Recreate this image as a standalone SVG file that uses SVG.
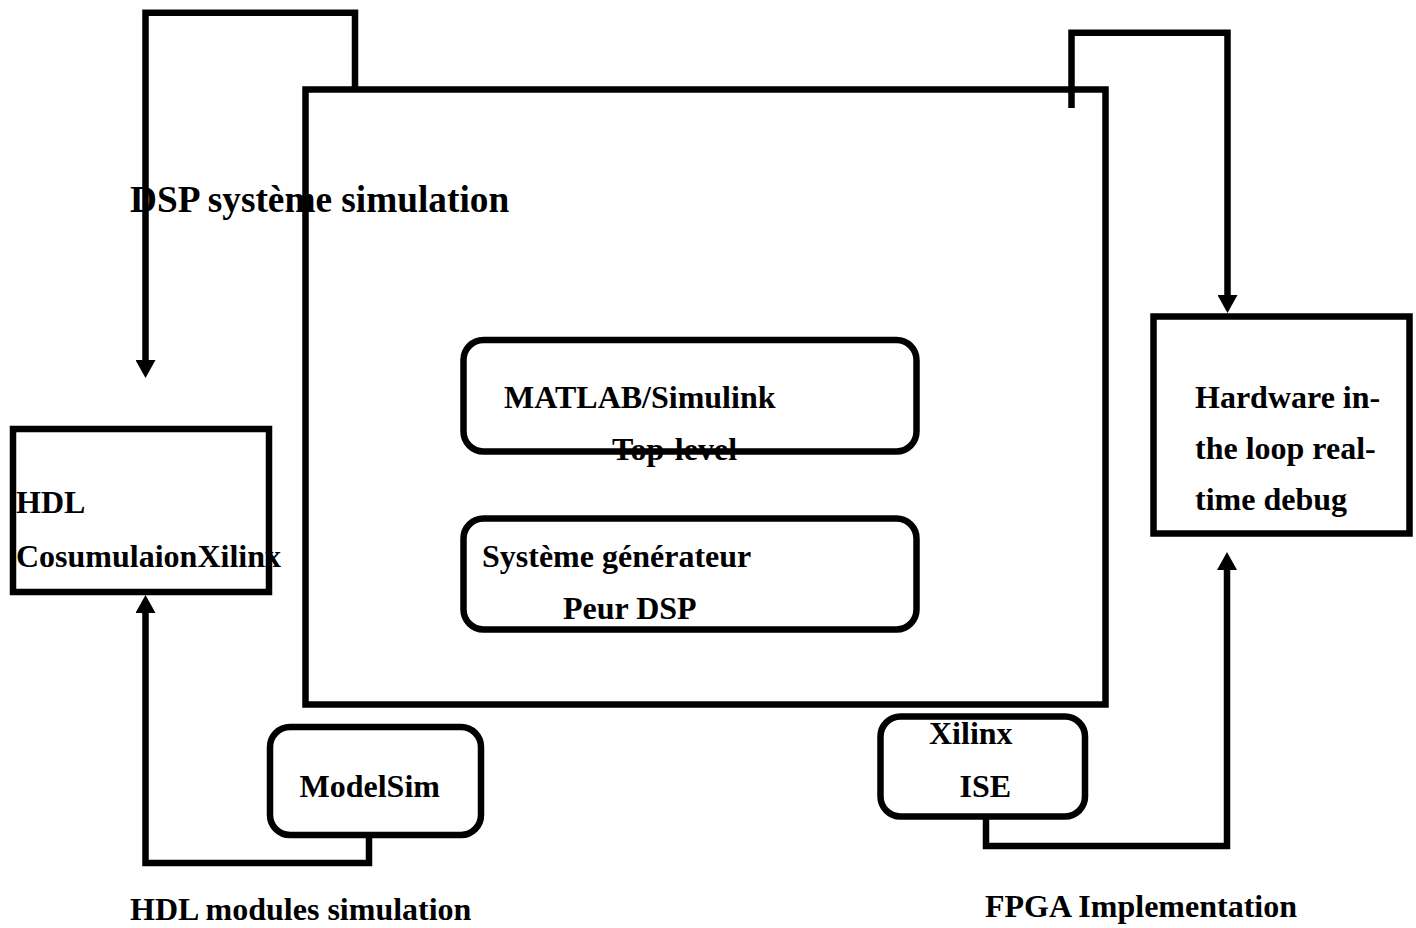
<svg xmlns="http://www.w3.org/2000/svg" width="1416" height="928" viewBox="0 0 1416 928">
<style>
.box{fill:#fff;stroke:#000;stroke-width:6.5}
.frame{fill:none;stroke:#000;stroke-width:6.5}
.conn{fill:none;stroke:#000;stroke-width:6.5;stroke-linejoin:miter;stroke-linecap:butt}
.t{font-family:"Liberation Serif","Times New Roman",serif;font-weight:bold;font-size:32px;fill:#000}
.title{font-size:37.3px}
</style>
<defs>
<marker id="ah" markerUnits="userSpaceOnUse" markerWidth="20" markerHeight="20" refX="0" refY="10" orient="auto" viewBox="0 0 18 20">
<path d="M0,0 L18,10 L0,20 Z" fill="#000"/>
</marker>
</defs>
<rect width="1416" height="928" fill="#fff"/>
<g id="main">
<rect class="frame" x="305.5" y="89.5" width="800" height="615"/>
<text class="t title" x="130" y="212">DSP système simulation</text>
</g>
<g id="connectors">
<path class="conn" d="M355,89.5 V12.7 H145.5 V360" marker-end="url(#ah)"/>
<path class="conn" d="M369,836 V863 H145.5 V613" marker-end="url(#ah)"/>
<path class="conn" d="M1071.5,108 V32.7 H1227.5 V295" marker-end="url(#ah)"/>
<path class="conn" d="M986,817 V846 H1227 V570" marker-end="url(#ah)"/>
</g>
<g id="matlab">
<rect class="box" x="463.5" y="340" width="453" height="111.5" rx="20"/>
<text class="t" x="504" y="407.5">MATLAB/Simulink</text>
<text class="t" x="612" y="460">Top-level</text>
</g>
<g id="sysgen">
<rect class="box" x="463.5" y="518.5" width="453" height="111" rx="20"/>
<text class="t" x="482" y="566.5">Système générateur</text>
<text class="t" x="563" y="618.5">Peur DSP</text>
</g>
<g id="hdlcosim">
<rect class="box" x="13" y="429" width="256" height="163"/>
<text class="t" x="16" y="513">HDL</text>
<text class="t" x="16" y="566.5">CosumulaionXilinx</text>
</g>
<g id="hardware">
<rect class="box" x="1153.5" y="316.5" width="256" height="217"/>
<text class="t" x="1195" y="408">Hardware in-</text>
<text class="t" x="1195" y="459">the loop real-</text>
<text class="t" x="1195" y="510">time debug</text>
</g>
<g id="modelsim">
<rect class="box" x="270" y="727" width="211" height="108" rx="20"/>
<text class="t" x="299.5" y="797">ModelSim</text>
</g>
<g id="xilinxise">
<rect class="box" x="880.5" y="716.5" width="204.5" height="100" rx="20"/>
<text class="t" x="929" y="743.5">Xilinx</text>
<text class="t" x="959.5" y="797">ISE</text>
</g>
<g id="labels">
<text class="t" x="130" y="920">HDL modules simulation</text>
<text class="t" x="985" y="917">FPGA Implementation</text>
</g>
</svg>
